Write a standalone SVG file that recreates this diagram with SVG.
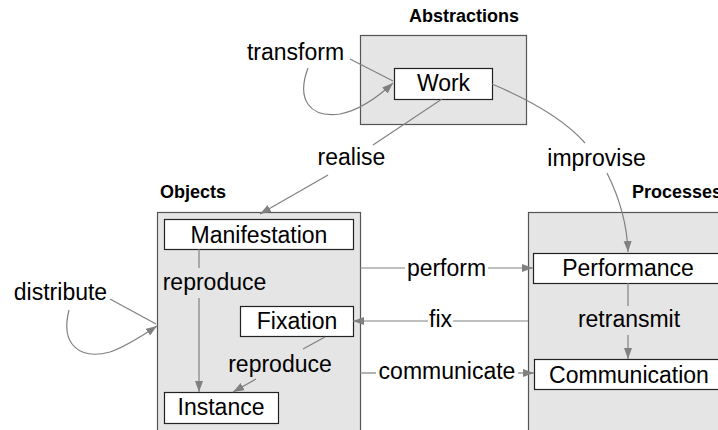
<svg xmlns="http://www.w3.org/2000/svg" width="718" height="430" viewBox="0 0 718 430">
<style>
.cl{fill:#e5e5e5;stroke:#555;stroke-width:1.2}
.nd{fill:#fff;stroke:#222;stroke-width:1.2}
.t{font-family:"Liberation Sans",Arial,sans-serif;font-size:23px;fill:#000;text-anchor:middle}
.h{font-family:"Liberation Sans",Arial,sans-serif;font-size:18px;font-weight:bold;fill:#000}
.e{fill:none;stroke:#808080;stroke-width:1.2}
</style>
<defs>
<marker id="ah" markerUnits="userSpaceOnUse" markerWidth="12" markerHeight="9" refX="11" refY="4" orient="auto">
<path d="M0,0 L11,4 L0,8 z" fill="#808080"/>
</marker>
</defs>
<g id="cluster-abstractions">
<rect class="cl" x="360.5" y="35.5" width="166" height="89"/>
<text class="h" x="409" y="22">Abstractions</text>
</g>
<g id="cluster-objects">
<rect class="cl" x="157.5" y="212.5" width="203" height="240"/>
<text class="h" x="160" y="198">Objects</text>
</g>
<g id="cluster-processes">
<rect class="cl" x="528.5" y="212.5" width="220" height="240"/>
<text class="h" x="632" y="198">Processes</text>
</g>
<g id="node-work">
<rect class="nd" x="394.5" y="68.5" width="98" height="31"/>
<text class="t" x="443.5" y="91">Work</text>
</g>
<g id="node-manifestation">
<rect class="nd" x="164.5" y="219.5" width="189" height="30"/>
<text class="t" x="259" y="243">Manifestation</text>
</g>
<g id="node-fixation">
<rect class="nd" x="240.5" y="306.5" width="113" height="30"/>
<text class="t" x="297" y="329">Fixation</text>
</g>
<g id="node-instance">
<rect class="nd" x="164.5" y="392.5" width="114" height="31"/>
<text class="t" x="221" y="415">Instance</text>
</g>
<g id="node-performance">
<rect class="nd" x="533.5" y="253.5" width="190" height="30"/>
<text class="t" x="628" y="276">Performance</text>
</g>
<g id="node-communication">
<rect class="nd" x="534.5" y="359.5" width="192" height="30"/>
<text class="t" x="629" y="383">Communication</text>
</g>
<g id="connectors">
<path class="e" d="M350,59 L393,81"/>
<path class="e" d="M308,68 C296,100 310,118 340,114 C360,110 378,97 393,83" marker-end="url(#ah)"/>
<text class="t" x="295.5" y="60">transform</text>
<path class="e" d="M442,99 L373,145"/>
<path class="e" d="M328,175 L260,214" marker-end="url(#ah)"/>
<text class="t" x="351.5" y="165">realise</text>
<path class="e" d="M492,84 C530,100 565,120 585,143"/>
<path class="e" d="M607,173 C618,195 627,220 628,252" marker-end="url(#ah)"/>
<text class="t" x="596.5" y="166">improvise</text>
<path class="e" d="M199,249 L199,268"/>
<path class="e" d="M199,298 L199,392" marker-end="url(#ah)"/>
<text class="t" x="214.5" y="290">reproduce</text>
<path class="e" d="M325,337 L303,349"/>
<path class="e" d="M256,379 L233,392" marker-end="url(#ah)"/>
<text class="t" x="280" y="372">reproduce</text>
<path class="e" d="M110,299 L156,324"/>
<path class="e" d="M69,310 C60,345 80,360 110,352 C125,347 142,336 157,326" marker-end="url(#ah)"/>
<text class="t" x="60.5" y="300">distribute</text>
<path class="e" d="M360,268 L405,268"/>
<path class="e" d="M488,268 L533,268" marker-end="url(#ah)"/>
<text class="t" x="446.5" y="276">perform</text>
<path class="e" d="M528,321 L453,321"/>
<path class="e" d="M428,321 L353,321" marker-end="url(#ah)"/>
<text class="t" x="440.5" y="327">fix</text>
<path class="e" d="M360,373 L376,373"/>
<path class="e" d="M518,373 L534,373" marker-end="url(#ah)"/>
<text class="t" x="447" y="379">communicate</text>
<path class="e" d="M628,283 L628,306"/>
<path class="e" d="M628,335 L628,359" marker-end="url(#ah)"/>
<text class="t" x="629" y="327">retransmit</text>
</g>
</svg>
